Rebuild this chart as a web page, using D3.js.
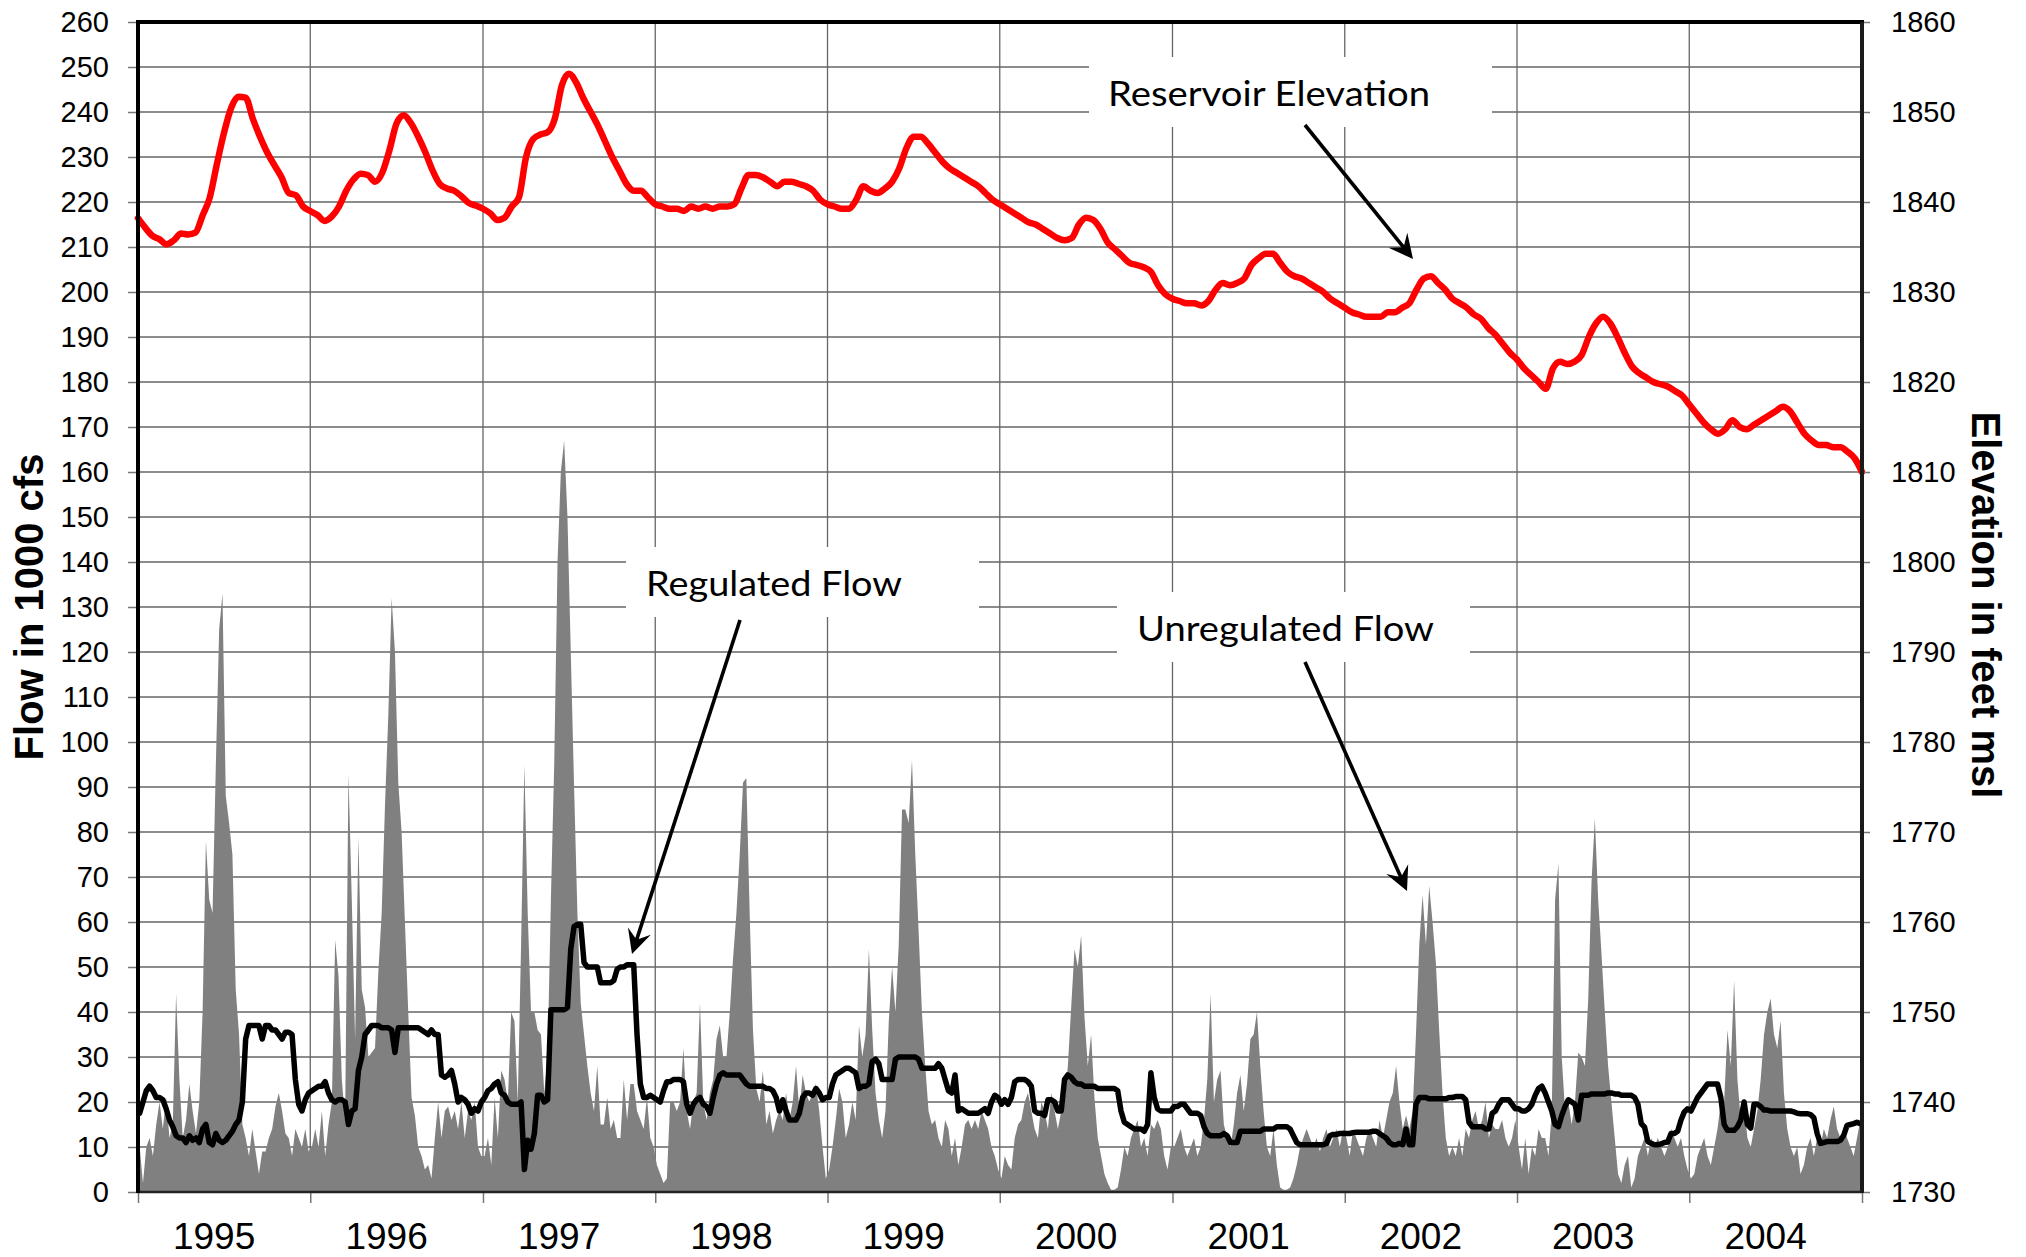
<!DOCTYPE html>
<html>
<head>
<meta charset="utf-8">
<script src="https://cdn.jsdelivr.net/npm/d3@7"></script>
<style>
  body { margin: 0; background: #fff; }
  svg { display: block; }
</style>
</head>
<body>
<svg id="chart" width="2026" height="1257"></svg>
<script>
// ---- Axis categories and ticks ----
const years = [1995, 1996, 1997, 1998, 1999, 2000, 2001, 2002, 2003, 2004];
const yearLabels = ["1995", "1996", "1997", "1998", "1999", "2000", "2001", "2002", "2003", "2004"];
const flowTicks = [0, 10, 20, 30, 40, 50, 60, 70, 80, 90, 100, 110, 120, 130, 140, 150, 160, 170, 180, 190, 200, 210, 220, 230, 240, 250, 260];
const elevTicks = [1730, 1740, 1750, 1760, 1770, 1780, 1790, 1800, 1810, 1820, 1830, 1840, 1850, 1860];

// ---- Unregulated flow, 1000 cfs, weekly (52 per year) ----
const unreg1995 = [10,2,10,12,8,15,20,14,21,12,15,44,25,12,16,24,18,13,20,40,78,65,62,95,125,133,88,82,75,45,35,15,12,8,14,9,4,9,9,12,14,19,22,18,13,12,8,14,12,10,14,9];
const unreg1996 = [10,14,10,18,8,15,20,56,48,25,16,93,65,34,79,45,41,30,31,32,49,62,86,106,132,120,91,80,60,40,21,17,10,8,5,6,3,12,20,12,18,19,16,18,14,20,12,18,16,20,10,8];
const unreg1997 = [8,12,6,21,12,27,25,20,40,38,20,55,95,62,40,40,36,35,22,30,65,95,140,160,167,150,120,90,62,42,35,28,22,18,28,15,15,21,14,16,12,12,25,16,24,24,18,16,14,21,12,10];
const unreg1998 = [6,4,2,3,20,20,18,20,32,18,14,20,22,42,20,16,22,25,34,37,30,30,40,52,62,75,91,92,62,36,23,20,27,15,18,13,16,18,16,22,16,20,28,18,26,22,20,22,24,18,10,3];
const unreg1999 = [5,10,16,23,20,12,15,20,16,37,30,35,54,36,22,16,12,18,38,50,40,55,85,85,82,96,75,58,40,28,18,15,16,12,10,16,14,8,12,6,10,15,16,14,16,14,18,16,14,10,8,5];
const unreg2000 = [3,8,6,5,12,15,16,20,22,18,14,12,20,18,14,22,18,14,18,20,28,41,54,50,57,39,28,35,21,12,8,4,2,0.5,0.5,1,5,10,8,12,14,16,10,12,8,15,14,16,14,8,5,10];
const unreg2001 = [10,12,14,10,8,10,12,8,10,16,25,44,20,25,27,15,12,10,15,22,26,18,24,34,35,40,28,18,10,8,14,6,1,0.5,0.5,1,3,6,10,12,14,12,10,12,9,12,14,10,12,14,10,14];
const unreg2002 = [12,8,14,12,10,8,12,14,12,10,16,12,16,20,22,28,20,14,17,14,18,35,55,66,55,68,60,51,36,22,12,8,10,8,12,8,14,12,16,18,14,16,20,12,15,14,14,16,12,10,12,16];
const unreg2003 = [10,5,12,4,10,8,14,12,12,8,18,65,73,30,18,20,15,20,31,30,28,43,69,83,65,53,40,28,20,12,4,2,6,8,1,3,8,10,12,8,12,10,12,10,8,10,14,12,10,12,8,5];
const unreg2004 = [3,4,8,10,12,8,6,10,14,20,20,36,28,47,25,16,20,12,10,14,18,25,35,40,43,35,32,38,22,14,10,8,10,4,6,10,12,8,12,10,14,12,16,19,14,12,14,12,10,8,12,16];

// ---- Regulated flow, 1000 cfs, weekly (52 per year) ----
const reg1995 = [17.5,20,22.5,23.5,22.5,21,21,20.5,18.5,16,14.5,12.5,12,12,11,12.5,11.5,12,11,14,15,11,10.5,13,11.5,11,11.5,12.5,13.5,15,16,20,34,37,37,37,37,34,37,37,36,36,35,34,35.5,35.5,35,25,19.5,18,20.5,22];
const reg1996 = [22.5,23,23.5,23.5,24.5,22,20.5,20,20.5,20.5,20,15,18,18.5,27,30,35,36,37,37,37,36.5,36.5,36.5,36,31,36.5,36.5,36.5,36.5,36.5,36.5,36.5,36,35.5,35,36,35,35,26,25.5,26,27,24,20,21,20.5,19.5,17.5,18.5,18,20];
const reg1997 = [21,22.5,23,24,24.5,22,21.5,20,19.5,19.5,19.5,20,5,11.5,9.5,13,21.5,21.5,20,20.5,40.5,40.5,40.5,40.5,40.5,41,54,59,59.5,59.5,51,50,50,50,50,46.5,46.5,46.5,46.5,47,49.5,50,50,50.5,50.5,50.5,35,24,21,21,21.5,21];
const reg1998 = [20.5,20,22.5,24.5,24.5,25,25,25,24.5,19.5,17.5,19.5,20.5,21,19.5,19,17.5,21,24,26,26.5,26,26,26,26,26,25,24,23.5,23.5,23.5,23.5,23.5,23,23,22.5,21,18,20.5,18,16,16,16,17.5,21,22,22,21.5,23,22,20.5,21];
const reg1999 = [21,24,26,26.5,27,27.5,27.5,27,26.5,23,23.5,23.5,24,29,29.5,28.5,25,25,25,25,29.5,30,30,30,30,30,30,29.5,27.5,27.5,27.5,27.5,27.5,28.5,27.5,25,22.5,22,26,18,18.5,18,17.5,17.5,17.5,17.5,18,18.5,17.5,20,21.5,21];
const reg2000 = [19.5,20.5,19.5,21,24.5,25,25,25,24.5,23.5,18,17.5,17.5,17,20.5,20.5,20,18,18,25,26,25.5,24.5,24,24,23.5,23.5,23.5,23.5,23,23,23,23,23,23,22.5,18,15.5,15,14.5,14,14,14,13.5,15,26.5,21,18.5,18,18,18,18];
const reg2001 = [19,19,19.5,19.5,18.5,17.5,17.5,17.5,17,14.5,13,12.5,12.5,12.5,12.5,13,12.5,11,11,11,13.5,13.5,13.5,13.5,13.5,13.5,13.5,14,14,14,14,14.5,14.5,14.5,14.5,14,12.5,11,10.5,10.5,10.5,10.5,10.5,10.5,10.5,10.5,10.8,12.5,12.8,12.8,13,13];
const reg2002 = [13,13,13.2,13.3,13.3,13.3,13.3,13.3,13.5,13.5,13,12.5,12,11,10.5,10.5,10.8,10.5,14,10.5,10.5,19.5,21,21,21,20.7,20.7,20.7,20.7,20.7,20.7,21,21,21.2,21.2,21.2,20.5,15.5,14.5,14.5,14.5,14.5,14,14,17.5,18,19.5,20.5,20.5,20.5,19.5,18.5];
const reg2003 = [18.5,18,18,18.5,19.5,21.5,23,23.5,22,20,18,15,14.5,17,19,20.5,20,19.5,16,21.5,21.5,21.5,21.8,21.8,21.8,21.8,21.8,22,22,21.8,21.8,21.5,21.5,21.5,21.5,21,19.5,15.2,14.4,11.2,10.8,10.5,10.5,10.7,11,11.1,13,13,13.5,16,17.8,18.5];
const reg2004 = [18,19.5,21,22,23,24,24,24,24,21,15,13.7,13.7,13.7,14.5,16,20,15,14.2,19.5,19.5,19,18.2,18.2,18,18,18,18,18,18,18,17.8,17.5,17.4,17.4,17.4,17.2,16.5,13,10.8,11,11.2,11.2,11.2,11.2,11.5,12.6,14.8,15,15.2,15.5,15.2];

// ---- Reservoir elevation, feet msl, twice monthly (last year ends on 1 Jan 2005) ----
const elev1995 = [1838.2,1837.15,1836.25,1835.85,1835.3,1835.75,1836.5,1836.4,1836.6,1838.5,1840.5,1844.25,1847.75,1850.5,1851.7,1851.6,1849.25,1847.25,1845.5,1844.1,1842.75,1841,1840.75,1839.5];
const elev1996 = [1839,1838.55,1837.9,1838.4,1839.5,1841.25,1842.5,1843.15,1843,1842.25,1843.25,1845.75,1848.75,1849.65,1848.75,1847.25,1845.5,1843.5,1842,1841.5,1841.25,1840.65,1839.9,1839.6];
const elev1997 = [1839.25,1838.75,1838,1838.25,1839.5,1840.5,1845,1847,1847.5,1847.75,1849.25,1853,1854.25,1853.25,1851.5,1850,1848.5,1846.75,1845,1843.5,1842,1841.25,1841.25,1840.5];
const elev1998 = [1839.75,1839.5,1839.25,1839.25,1839,1839.5,1839.25,1839.5,1839.25,1839.5,1839.5,1839.75,1841.5,1843,1843,1842.75,1842.25,1841.75,1842.25,1842.25,1842,1841.75,1841.25,1840.25];
const elev1999 = [1839.75,1839.5,1839.25,1839.25,1840.25,1841.75,1841.25,1841,1841.5,1842.25,1843.75,1846,1847.25,1847.25,1846.5,1845.5,1844.5,1843.75,1843.25,1842.75,1842.25,1841.75,1841,1840.25];
const elev2000 = [1839.75,1839.25,1838.75,1838.25,1837.75,1837.5,1837,1836.5,1836,1835.75,1836,1837.5,1838.25,1838,1837,1835.5,1834.75,1834,1833.25,1833,1832.75,1832.25,1830.75,1829.75];
const elev2001 = [1829.25,1829,1828.75,1828.75,1828.5,1829,1830.25,1831,1830.75,1831,1831.5,1833,1833.75,1834.25,1834.25,1833.25,1832.25,1831.75,1831.5,1831,1830.5,1830,1829.25,1828.75];
const elev2002 = [1828.25,1827.75,1827.5,1827.25,1827.25,1827.25,1827.75,1827.75,1828.25,1828.75,1830.25,1831.5,1831.75,1831,1830.25,1829.25,1828.75,1828.25,1827.5,1827,1826,1825.25,1824.25,1823.25];
const elev2003 = [1822.5,1821.5,1820.75,1820,1819.25,1821.5,1822.25,1822,1822.25,1823,1825,1826.5,1827.25,1826.5,1825,1823.25,1821.75,1821,1820.5,1820,1819.75,1819.5,1819,1818.5];
const elev2004 = [1817.5,1816.5,1815.5,1814.75,1814.25,1814.75,1815.75,1815,1814.75,1815.25,1815.75,1816.25,1816.75,1817.25,1816.75,1815.5,1814.25,1813.5,1813,1813,1812.75,1812.75,1812.25,1811.5,1810];

const unregByYear = [unreg1995, unreg1996, unreg1997, unreg1998, unreg1999, unreg2000, unreg2001, unreg2002, unreg2003, unreg2004];
const regByYear = [reg1995, reg1996, reg1997, reg1998, reg1999, reg2000, reg2001, reg2002, reg2003, reg2004];
const elevByYear = [elev1995, elev1996, elev1997, elev1998, elev1999, elev2000, elev2001, elev2002, elev2003, elev2004];

// ---- Date helpers: place samples inside each calendar year ----
function weeklyDate(year, k) {
  const s = new Date(year, 0, 1), e = new Date(year + 1, 0, 1);
  return new Date(+s + (e - s) * (k + 0.5) / 52);
}
function halfMonthDate(year, k) {
  const s = new Date(year, 0, 1), e = new Date(year + 1, 0, 1);
  return new Date(+s + (e - s) * k / 24);
}
const unregSeries = years.flatMap((y, i) => unregByYear[i].map((v, k) => ({ date: weeklyDate(y, k), v })));
const regSeries = years.flatMap((y, i) => regByYear[i].map((v, k) => ({ date: weeklyDate(y, k), v })));
const elevSeries = years.flatMap((y, i) => elevByYear[i].map((v, k) => ({ date: halfMonthDate(y, k), v })));

// ---- Layout ----
const plot = { left: 138, right: 1862, top: 22, bottom: 1192 };
const svg = d3.select("#chart");
const FONT = "'Liberation Sans', Arial, Helvetica, sans-serif";
const NOTE_FONT = "Lato, 'Open Sans', sans-serif";

const x = d3.scaleTime()
  .domain([new Date(1995, 0, 1), new Date(2005, 0, 1)])
  .range([plot.left, plot.right]);
const yFlow = d3.scaleLinear().domain([0, 260]).range([plot.bottom, plot.top]);
const yElev = d3.scaleLinear().domain([1730, 1860]).range([plot.bottom, plot.top]);
const yearStarts = years.map(y => new Date(y, 0, 1)).concat([new Date(2005, 0, 1)]);

svg.append("rect").attr("width", 2026).attr("height", 1257).attr("fill", "#fff");

// Gridlines
const grid = svg.append("g").attr("stroke", "#666").attr("stroke-width", 1.3);
grid.selectAll("line.h").data(flowTicks.filter(t => t > 0 && t < 260)).join("line")
  .attr("x1", plot.left).attr("x2", plot.right)
  .attr("y1", d => yFlow(d)).attr("y2", d => yFlow(d));
grid.selectAll("line.v").data(yearStarts.slice(1, -1)).join("line")
  .attr("x1", d => x(d)).attr("x2", d => x(d))
  .attr("y1", plot.top).attr("y2", plot.bottom);

// Unregulated flow (gray area)
svg.append("path").datum(unregSeries)
  .attr("fill", "#808080")
  .attr("d", d3.area().x(d => x(d.date)).y0(yFlow(0)).y1(d => yFlow(d.v)));

// Regulated flow (black line)
svg.append("path").datum(regSeries)
  .attr("fill", "none").attr("stroke", "#000").attr("stroke-width", 5.5)
  .attr("stroke-linejoin", "round").attr("stroke-linecap", "round")
  .attr("d", d3.line().x(d => x(d.date)).y(d => yFlow(d.v)));

// Reservoir elevation (red line, right axis)
svg.append("path").datum(elevSeries)
  .attr("fill", "none").attr("stroke", "#ff0000").attr("stroke-width", 6.5)
  .attr("stroke-linejoin", "round").attr("stroke-linecap", "round")
  .attr("d", d3.line().curve(d3.curveMonotoneX).x(d => x(d.date)).y(d => yElev(d.v)));

// Left axis
const leftAxis = svg.append("g").attr("transform", `translate(${plot.left},0)`)
  .call(d3.axisLeft(yFlow).tickValues(flowTicks).tickSize(10).tickPadding(19).tickFormat(d3.format("d")));
leftAxis.select(".domain").remove();
leftAxis.selectAll(".tick line").attr("stroke", "#777").attr("stroke-width", 1.5);
leftAxis.selectAll(".tick text").attr("font-family", FONT).attr("font-size", 29).attr("fill", "#000");

// Right axis
const rightAxis = svg.append("g").attr("transform", `translate(${plot.right},0)`)
  .call(d3.axisRight(yElev).tickValues(elevTicks).tickSize(8).tickPadding(21).tickFormat(d3.format("d")));
rightAxis.select(".domain").remove();
rightAxis.selectAll(".tick line").attr("stroke", "#777").attr("stroke-width", 1.5);
rightAxis.selectAll(".tick text").attr("font-family", FONT).attr("font-size", 29).attr("fill", "#000");

// Bottom axis ticks at year boundaries
const bottomAxis = svg.append("g").attr("transform", `translate(0,${plot.bottom})`)
  .call(d3.axisBottom(x).tickValues(yearStarts).tickSize(11).tickFormat(""));
bottomAxis.select(".domain").remove();
bottomAxis.selectAll(".tick line").attr("stroke", "#777").attr("stroke-width", 1.5);

// Year labels centred in each year band
svg.append("g").selectAll("text").data(years).join("text")
  .attr("x", (d, i) => (x(yearStarts[i]) + x(yearStarts[i + 1])) / 2 - 10)
  .attr("y", 1249)
  .attr("text-anchor", "middle")
  .attr("font-family", FONT).attr("font-size", 37)
  .text((d, i) => yearLabels[i]);

// Frame
svg.append("line").attr("x1", plot.left).attr("x2", plot.right).attr("y1", plot.bottom).attr("y2", plot.bottom)
  .attr("stroke", "#222").attr("stroke-width", 2.5);
svg.append("line").attr("x1", plot.left - 2).attr("x2", plot.right + 2).attr("y1", plot.top).attr("y2", plot.top)
  .attr("stroke", "#000").attr("stroke-width", 4);
svg.append("line").attr("x1", plot.left).attr("x2", plot.left).attr("y1", plot.top).attr("y2", plot.bottom + 1)
  .attr("stroke", "#000").attr("stroke-width", 4);
svg.append("line").attr("x1", plot.right).attr("x2", plot.right).attr("y1", plot.top).attr("y2", plot.bottom + 1)
  .attr("stroke", "#1a1a1a").attr("stroke-width", 4);

// Axis titles
svg.append("text")
  .attr("transform", "translate(43,607) rotate(-90)")
  .attr("text-anchor", "middle")
  .attr("font-family", FONT).attr("font-weight", "bold").attr("font-size", 40)
  .text("Flow in 1000 cfs");
svg.append("text")
  .attr("transform", "translate(1972,605) rotate(90)")
  .attr("text-anchor", "middle")
  .attr("font-family", FONT).attr("font-weight", "bold").attr("font-size", 40)
  .text("Elevation in feet msl");

// Annotation callouts
const notes = [
  { text: "Reservoir Elevation", box: [1089, 57, 403, 70], tx: 1108, ty: 106, len: 322, from: [1305, 125], to: [1413, 259] },
  { text: "Regulated Flow", box: [626, 547, 353, 70], tx: 646, ty: 596, len: 256, from: [740, 620], to: [632, 954] },
  { text: "Unregulated Flow", box: [1117, 592, 353, 70], tx: 1137, ty: 641, len: 297, from: [1305, 662], to: [1407, 891] }
];
const noteG = svg.append("g");
noteG.selectAll("rect").data(notes).join("rect")
  .attr("x", d => d.box[0]).attr("y", d => d.box[1])
  .attr("width", d => d.box[2]).attr("height", d => d.box[3])
  .attr("fill", "#fff");
noteG.selectAll("text").data(notes).join("text")
  .attr("x", d => d.tx).attr("y", d => d.ty)
  .attr("font-family", NOTE_FONT).attr("font-size", 34)
  .attr("textLength", d => d.len).attr("lengthAdjust", "spacingAndGlyphs")
  .text(d => d.text);

function arrowHead(from, to) {
  const dx = to[0] - from[0], dy = to[1] - from[1];
  const L = Math.hypot(dx, dy), ux = dx / L, uy = dy / L, px = -uy, py = ux;
  const back = 24, half = 12, notch = 15;
  const p = (a, b) => [to[0] - ux * a + px * b, to[1] - uy * a + py * b];
  return [to, p(back, half), p(notch, 0), p(back, -half)];
}
notes.forEach(d => {
  const L = Math.hypot(d.to[0] - d.from[0], d.to[1] - d.from[1]);
  const stop = [d.to[0] - (d.to[0] - d.from[0]) / L * 12, d.to[1] - (d.to[1] - d.from[1]) / L * 12];
  noteG.append("line")
    .attr("x1", d.from[0]).attr("y1", d.from[1]).attr("x2", stop[0]).attr("y2", stop[1])
    .attr("stroke", "#000").attr("stroke-width", 3.6);
  noteG.append("path")
    .attr("d", d3.line()(arrowHead(d.from, d.to)) + "Z")
    .attr("fill", "#000");
});
</script>
</body>
</html>
